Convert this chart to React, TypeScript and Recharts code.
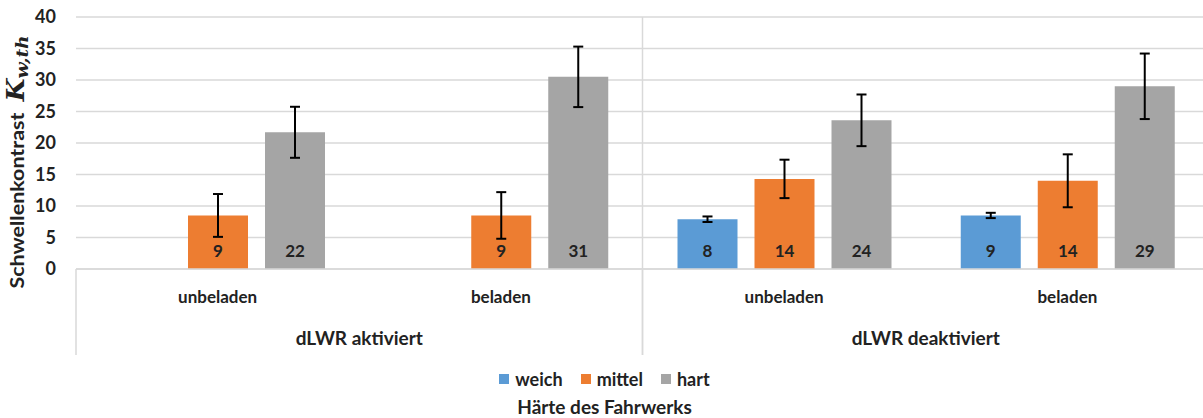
import React from 'react';
import {
  BarChart,
  Bar,
  XAxis,
  YAxis,
  CartesianGrid,
  ErrorBar,
  LabelList,
  Legend,
  ReferenceLine,
} from 'recharts';

// Load condition per bar group and the dLWR state it belongs to
const loads = ['unbeladen', 'beladen', 'unbeladen', 'beladen'];
const dlwrStates = ['dLWR aktiviert', 'dLWR aktiviert', 'dLWR deaktiviert', 'dLWR deaktiviert'];

// Threshold contrast per suspension stiffness (mean and standard deviation)
const weich = [null, null, 7.9, 8.5];
const weichSd = [null, null, 0.44, 0.42];
const mittel = [8.5, 8.5, 14.3, 14.0];
const mittelSd = [3.4, 3.7, 3.05, 4.2];
const hart = [21.7, 30.5, 23.6, 29.0];
const hartSd = [4.05, 4.8, 4.1, 5.2];

const yTicks = [0, 5, 10, 15, 20, 25, 30, 35, 40];

const seriesNames = ['weich', 'mittel', 'hart'];
const seriesColors = ['#5B9BD5', '#ED7D31', '#A5A5A5'];
const legendTitle = 'Härte des Fahrwerks';

const data = loads.map((load, i) => ({
  key: `${dlwrStates[i]}|${load}`,
  load,
  group: dlwrStates[i],
  weich: weich[i],
  weichSd: weichSd[i],
  mittel: mittel[i],
  mittelSd: mittelSd[i],
  hart: hart[i],
  hartSd: hartSd[i],
}));

const FONT = 'Lato, "Open Sans", sans-serif';
const TEXT = '#222222';
const GRID = '#D9D9D9';

const LoadTick = (props: any) => {
  const { x, y, payload } = props;
  const label = String(payload.value).split('|')[1];
  return (
    <text x={x} y={y + 34} textAnchor="middle" fill={TEXT} fontFamily={FONT} fontWeight={700} fontSize={17}>
      {label}
    </text>
  );
};

const GroupTick = (props: any) => {
  const { x, y, payload, width, visibleTicksCount } = props;
  const half = width / (visibleTicksCount || 2) / 2;
  return (
    <g>
      <line x1={x - half} y1={y - 40} x2={x - half} y2={y + 46} stroke={GRID} strokeWidth={1.5} />
      <line x1={x + half} y1={y - 40} x2={x + half} y2={y + 46} stroke={GRID} strokeWidth={1.5} />
      <text x={x} y={y + 36} textAnchor="middle" fill={TEXT} fontFamily={FONT} fontWeight={700} fontSize={19}>
        {payload.value}
      </text>
    </g>
  );
};

const YTitle = (props: any) => {
  const vb = props.viewBox || { x: 0, y: 17, width: 76, height: 252 };
  const cx = vb.x + 24;
  const cy = vb.y + vb.height * 0.575;
  return (
    <text
      x={0}
      y={0}
      transform={`translate(${cx}, ${cy}) rotate(-90) scale(1.1, 1)`}
      textAnchor="middle"
      fill={TEXT}
      fontFamily={FONT}
      fontWeight={700}
      fontSize={19.5}
    >
      <tspan>Schwellenkontrast</tspan>
      <tspan dx={10} fontFamily='"DejaVu Serif", serif' fontStyle="italic" fontSize={24}>K</tspan>
      <tspan dy={4} fontFamily='"DejaVu Serif", serif' fontStyle="italic" fontSize={17}>w,th</tspan>
    </text>
  );
};

const LegendBlock = () => (
  <div style={{ height: 66, fontFamily: FONT, color: TEXT, fontWeight: 700, textAlign: 'center' }}>
    <div style={{ display: 'flex', justifyContent: 'center', alignItems: 'center', paddingTop: 15, height: 24, fontSize: 18 }}>
      {seriesNames.map((name, i) => (
        <span key={name} style={{ display: 'inline-flex', alignItems: 'center', marginRight: i < 2 ? 18 : 0 }}>
          <span style={{ width: 10, height: 10, background: seriesColors[i], display: 'inline-block', marginRight: 6 }} />
          {name}
        </span>
      ))}
    </div>
    <div style={{ fontSize: 19, marginTop: 4 }}>{legendTitle}</div>
  </div>
);

const labelFmt = (v: any) => (v == null ? '' : Math.round(Number(v)));

export default function App() {
  return (
    <div style={{ position: 'absolute', left: 0, top: 0, width: 1203, height: 418, background: '#fff' }}>
      <BarChart
        width={1203}
        height={418}
        data={data}
        margin={{ top: 17, right: -6, left: 0, bottom: 0 }}
        barGap={17}
        barSize={60}
      >
        <CartesianGrid xAxisId="tier1" vertical={false} stroke={GRID} strokeWidth={1.5} />
        <XAxis
          xAxisId="tier1"
          dataKey="key"
          height={40}
          tickSize={0}
          tickMargin={0}
          tickLine={false}
          axisLine={{ stroke: GRID, strokeWidth: 1.5 }}
          tick={<LoadTick />}
          interval={0}
        />
        <XAxis
          xAxisId="tier2"
          dataKey="group"
          allowDuplicatedCategory={false}
          height={43}
          tickSize={0}
          tickMargin={0}
          tickLine={false}
          axisLine={false}
          tick={<GroupTick />}
          interval={0}
        />
        <YAxis
          width={76}
          domain={[0, 40]}
          ticks={yTicks}
          axisLine={false}
          tickLine={false}
          tickMargin={14}
          tick={{ fill: TEXT, fontFamily: FONT, fontWeight: 700, fontSize: 18 }}
          label={{ content: (p: any) => <YTitle {...p} /> }}
        />
        <ReferenceLine
          xAxisId="tier1"
          x={`${dlwrStates[2]}|${loads[2]}`}
          position="start"
          stroke={GRID}
          strokeWidth={1.5}
        />
        <Legend verticalAlign="bottom" align="center" content={() => <LegendBlock />} wrapperStyle={{ height: 66 }} />
        <Bar xAxisId="tier1" dataKey="weich" name="weich" fill={seriesColors[0]} isAnimationActive={false}>
          <ErrorBar dataKey="weichSd" width={5} stroke="#000" strokeWidth={2} direction="y" />
          <LabelList dataKey="weich" position="insideBottom" offset={12} formatter={labelFmt} fill={TEXT} fontFamily={FONT} fontWeight={700} fontSize={17} />
        </Bar>
        <Bar xAxisId="tier1" dataKey="mittel" name="mittel" fill={seriesColors[1]} isAnimationActive={false}>
          <ErrorBar dataKey="mittelSd" width={5} stroke="#000" strokeWidth={2} direction="y" />
          <LabelList dataKey="mittel" position="insideBottom" offset={12} formatter={labelFmt} fill={TEXT} fontFamily={FONT} fontWeight={700} fontSize={17} />
        </Bar>
        <Bar xAxisId="tier1" dataKey="hart" name="hart" fill={seriesColors[2]} isAnimationActive={false}>
          <ErrorBar dataKey="hartSd" width={5} stroke="#000" strokeWidth={2} direction="y" />
          <LabelList dataKey="hart" position="insideBottom" offset={12} formatter={labelFmt} fill={TEXT} fontFamily={FONT} fontWeight={700} fontSize={17} />
        </Bar>
      </BarChart>
    </div>
  );
}
